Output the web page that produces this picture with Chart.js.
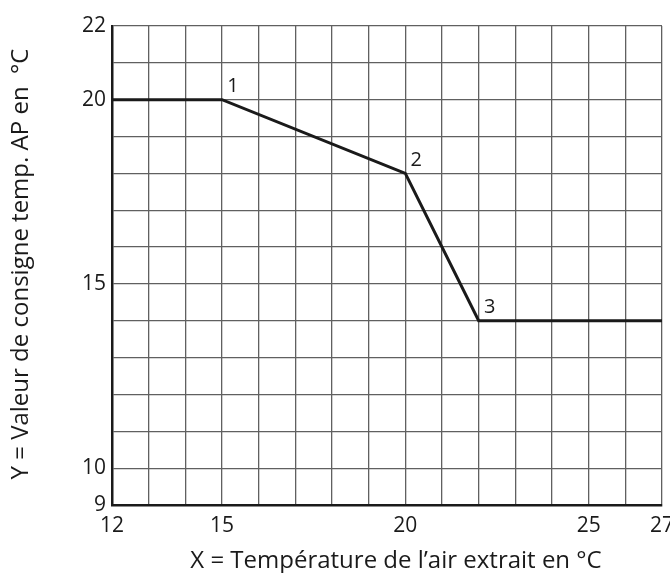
<!DOCTYPE html>
<html>
  <head>
    <style>
      body { margin: 0; background: #fff; }
      .wrap { width: 670px; height: 573px; }
    </style>
    <script src="https://cdn.jsdelivr.net/npm/chart.js"></script>
  </head>
  <body>
    <div class="wrap"><canvas id="curve"></canvas></div>
    <script>
      // courbe de consigne
      var extractTemp = [12, 15, 20, 22, 27];
      var setpoint = [20, 20, 18, 14, 14];
      var pointNames = ['', '1', '2', '3', ''];
      var xLabelled = [12, 15, 20, 25, 27];
      var yLabelled = [9, 10, 15, 20, 22];

      var FONT = '"Open Sans", "Noto Sans", sans-serif';

      var overlay = {
        id: 'overlay',
        afterDatasetsDraw: function(chart) {
          var ctx = chart.ctx;
          var xs = chart.scales.x, ys = chart.scales.y;
          ctx.save();
          ctx.fillStyle = '#1a1a1a';
          ctx.font = '20px ' + FONT;
          ctx.textAlign = 'center';
          ctx.textBaseline = 'middle';
          for (var i = 0; i < extractTemp.length; i++) {
            if (!pointNames[i]) continue;
            ctx.fillText(pointNames[i], xs.getPixelForValue(extractTemp[i]) + 11,
              ys.getPixelForValue(setpoint[i]) - 13);
          }
          // titres des axes
          ctx.font = '24px ' + FONT;
          ctx.fillText('X = Température de l\u2019air extrait en °C', 396, 561);
          ctx.translate(21, 264);
          ctx.rotate(-Math.PI / 2);
          ctx.fillText('Y = Valeur de consigne temp. AP en  °C', 0, 0);
          ctx.restore();
        }
      };

      var ctx = document.getElementById('curve').getContext('2d');
      new Chart(ctx, {
        type: 'line',
        data: {
          datasets: [{
            data: extractTemp.map(function(x, i) { return { x: x, y: setpoint[i] }; }),
            borderColor: '#1a1a1a',
            borderWidth: 3,
            pointRadius: 0,
            tension: 0
          }]
        },
        options: {
          responsive: true,
          maintainAspectRatio: false,
          animation: false,
          layout: { padding: { top: 26, right: 8, left: 0, bottom: 0 } },
          plugins: { legend: { display: false }, tooltip: { enabled: false } },
          scales: {
            x: {
              type: 'linear',
              min: 12,
              max: 27,
              afterFit: function(s) { s.height = 68; s.paddingLeft = 0; s.paddingRight = 0; },
              border: { color: '#1a1a1a', width: 2.5 },
              grid: { color: '#606060', lineWidth: 1.3, drawTicks: false },
              ticks: {
                stepSize: 1,
                padding: 8,
                maxRotation: 0,
                color: '#1a1a1a',
                font: { family: FONT, size: 21 },
                callback: function(v) { return xLabelled.indexOf(v) >= 0 ? String(v) : ''; }
              }
            },
            y: {
              type: 'linear',
              min: 9,
              max: 22,
              afterFit: function(s) { s.width = 112; s.paddingTop = 0; s.paddingBottom = 0; },
              border: { color: '#1a1a1a', width: 2.5 },
              grid: { color: '#606060', lineWidth: 1.3, drawTicks: false },
              ticks: {
                stepSize: 1,
                padding: 6,
                color: '#1a1a1a',
                font: { family: FONT, size: 21 },
                callback: function(v) { return yLabelled.indexOf(v) >= 0 ? String(v) : ''; }
              }
            }
          }
        },
        plugins: [overlay]
      });
    </script>
  </body>
</html>
